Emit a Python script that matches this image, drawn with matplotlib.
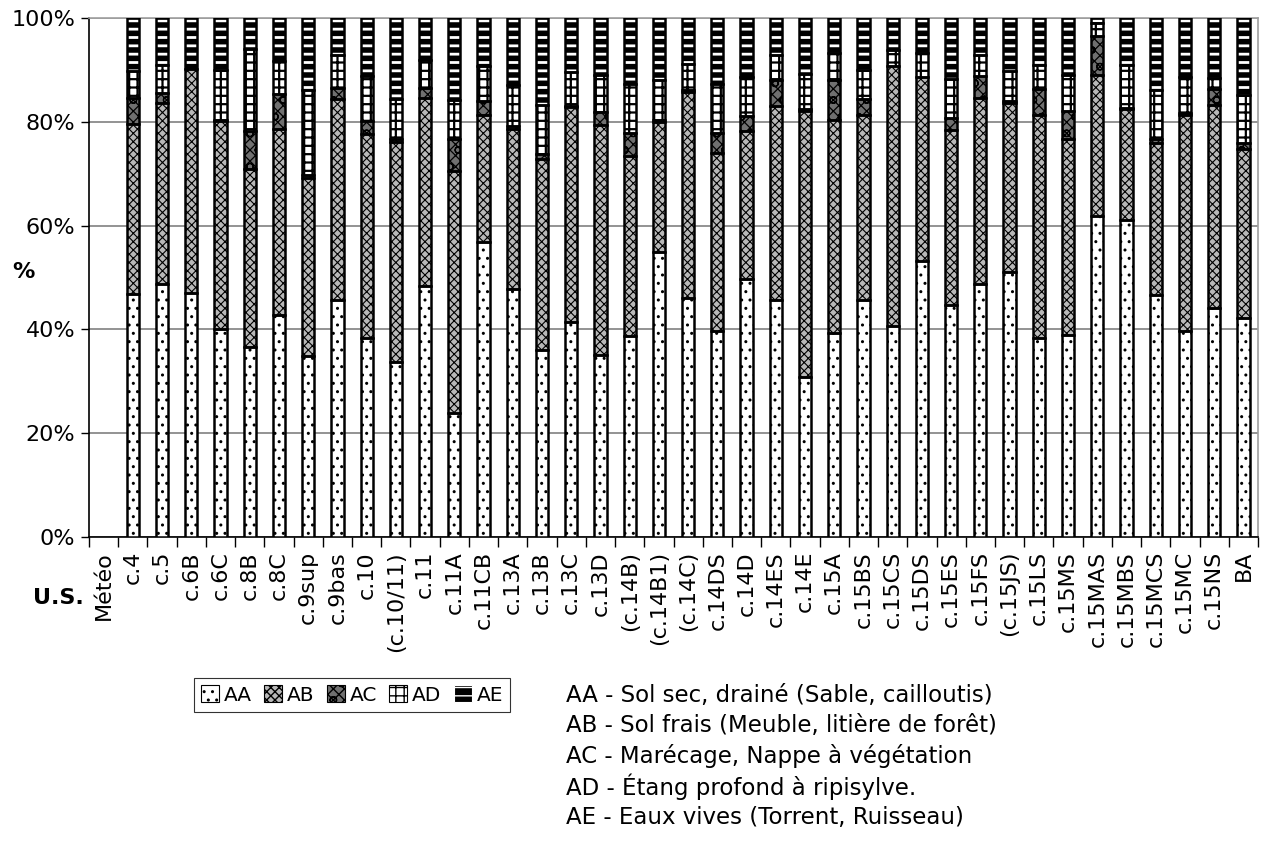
import matplotlib
matplotlib.use("Agg")
import numpy as np
import matplotlib.pyplot as plt
from matplotlib.patches import Patch

# Unités stratigraphiques
categories = ["Météo", "c.4", "c.5", "c.6B", "c.6C", "c.8B", "c.8C", "c.9sup", "c.9bas",
              "c.10", "(c.10/11)", "c.11", "c.11A", "c.11CB", "c.13A", "c.13B", "c.13C",
              "c.13D", "(c.14B)", "(c.14B1)", "(c.14C)", "c.14DS", "c.14D", "c.14ES",
              "c.14E", "c.15A", "c.15BS", "c.15CS", "c.15DS", "c.15ES", "c.15FS",
              "(c.15JS)", "c.15LS", "c.15MS", "c.15MAS", "c.15MBS", "c.15MCS", "c.15MC",
              "c.15NS", "BA"]

# Pourcentages par habitat
AA = [0, 46.9, 48.7, 47.1, 40.1, 36.7, 42.8, 34.9, 45.7, 38.4, 33.8, 48.3, 23.9, 56.8,
      47.8, 36.1, 41.4, 35.0, 38.8, 55.0, 46.0, 39.6, 49.8, 45.6, 30.8, 39.4, 45.6,
      40.7, 53.2, 44.7, 48.7, 51.1, 38.4, 39.0, 61.9, 61.1, 46.7, 39.7, 44.1, 42.2]
AB = [0, 32.6, 35.0, 43.0, 40.0, 34.3, 35.8, 34.3, 38.7, 39.2, 42.3, 36.2, 46.6, 24.6,
      30.9, 36.8, 41.5, 44.3, 34.6, 25.0, 39.8, 34.4, 28.4, 37.4, 51.3, 41.0, 35.8,
      50.0, 35.4, 33.7, 35.9, 32.6, 43.0, 37.7, 27.2, 21.4, 29.3, 41.7, 39.2, 32.6]
AC = [0, 5.1, 1.9, 0.0, 0.2, 7.2, 6.7, 0.5, 2.1, 2.5, 0.5, 2.0, 6.2, 2.6,
      0.5, 0.8, 0.2, 2.5, 4.5, 0.3, 0.3, 3.9, 2.9, 5.1, 0.3, 7.7, 2.9,
      0.0, 0.0, 2.4, 4.2, 0.3, 4.9, 5.3, 7.4, 0.2, 0.6, 0.3, 3.0, 1.2]
AD = [0, 5.1, 5.4, 0.0, 9.6, 15.8, 6.5, 16.4, 6.4, 8.8, 7.7, 5.5, 7.5, 6.7,
      7.8, 9.6, 6.4, 7.3, 9.3, 7.8, 5.1, 9.3, 7.5, 4.8, 6.9, 5.2, 5.6,
      3.2, 4.7, 7.5, 4.1, 5.7, 4.7, 7.1, 2.5, 8.3, 9.6, 6.9, 2.2, 9.1]
AE = [0, 10.3, 9.0, 9.9, 10.1, 6.0, 8.2, 13.9, 7.1, 11.1, 15.7, 8.0, 15.8, 9.3,
      13.0, 16.7, 10.5, 10.9, 12.8, 11.9, 8.8, 12.8, 11.4, 7.1, 10.7, 6.7, 10.1,
      6.1, 6.7, 11.7, 7.1, 10.3, 9.0, 10.9, 1.0, 9.0, 13.8, 11.4, 11.5, 14.9]

series = [("AA", AA), ("AB", AB), ("AC", AC), ("AD", AD), ("AE", AE)]

# motifs : face, hachure, couleur de hachure, épaisseur de hachure
styles = {
    "AA": ("white", "..", "black", 1.0),
    "AB": ("#b8b8b8", "xxxx", "black", 0.8),
    "AC": ("#707070", "xxxo", "black", 0.9),
    "AD": ("white", "++", "black", 1.6),
    "AE": ("black", "--", "white", 2.0),
}

legende = [
    "AA - Sol sec, drainé (Sable, cailloutis)",
    "AB - Sol frais (Meuble, litière de forêt)",
    "AC - Marécage, Nappe à végétation",
    "AD - Étang profond à ripisylve.",
    "AE - Eaux vives (Torrent, Ruisseau)",
]

plt.rcParams["font.family"] = ["DejaVu Sans"]
FS = 16

fig = plt.figure(figsize=(12.62, 8.47), dpi=100)
ax = fig.add_axes([89 / 1262, 1 - 537 / 847, (1258 - 89) / 1262, (537 - 18) / 847])

x = np.arange(len(categories))
width = 0.42
bottom = np.zeros(len(categories))
for name, vals in series:
    vals = np.array(vals, dtype=float)
    keep = vals > 0
    face, hatch, hcol, hlw = styles[name]
    with plt.rc_context({"hatch.linewidth": hlw}):
        ax.bar(x[keep], vals[keep], width, bottom=bottom[keep], color=face,
               hatch=hatch, edgecolor=hcol, linewidth=0, zorder=3)
    ax.bar(x[keep], vals[keep], width, bottom=bottom[keep], fill=False,
           edgecolor="black", linewidth=1.8, zorder=4)
    bottom += vals

ax.set_xlim(-0.5, len(categories) - 0.5)
ax.set_ylim(0, 100)
ax.set_yticks([0, 20, 40, 60, 80, 100])
ax.set_yticklabels(["0%", "20%", "40%", "60%", "80%", "100%"], fontsize=FS)
ax.yaxis.grid(True, color="#808080", linewidth=1.2, zorder=0)
ax.set_xticks(x)
ax.set_xticklabels(categories, rotation=90, fontsize=FS)
ax.set_xticks(np.arange(len(categories) + 1) - 0.5, minor=True)
ax.tick_params(axis="x", which="major", length=0, pad=10)
ax.tick_params(axis="x", which="minor", length=7, width=1, direction="out")
ax.tick_params(axis="y", length=6, width=1, direction="out", pad=4)

for s in ["top", "right"]:
    ax.spines[s].set_color("#a0a0a0")
    ax.spines[s].set_linewidth(1.2)
ax.spines["left"].set_linewidth(1.2)
ax.spines["bottom"].set_linewidth(1.2)

fig.text(23 / 1262, 1 - 272 / 847, "%", fontsize=FS, fontweight="bold",
         ha="center", va="center")
fig.text(58 / 1262, 1 - 598 / 847, "U.S.", fontsize=FS, fontweight="bold",
         ha="center", va="center")

handles = []
for name, _ in series:
    face, hatch, hcol, hlw = styles[name]
    with plt.rc_context({"hatch.linewidth": min(hlw, 1.2)}):
        handles.append(Patch(facecolor=face, hatch=hatch, edgecolor=hcol,
                             linewidth=0.8))
leg = fig.legend(handles, [n for n, _ in series], ncol=5, loc="center",
                 bbox_to_anchor=(352 / 1262, 1 - 695 / 847), fontsize=FS - 1.5,
                 frameon=True, fancybox=False, handlelength=0.9, handleheight=0.9,
                 handletextpad=0.25, columnspacing=0.6, borderpad=0.35)
leg.get_frame().set_edgecolor("black")
leg.get_frame().set_linewidth(0.8)

for i, t in enumerate(legende):
    fig.text(566 / 1262, 1 - (695 + i * 30.5) / 847, t, fontsize=FS + 0.5,
             ha="left", va="center")

fig.savefig("out.png", dpi=100)
